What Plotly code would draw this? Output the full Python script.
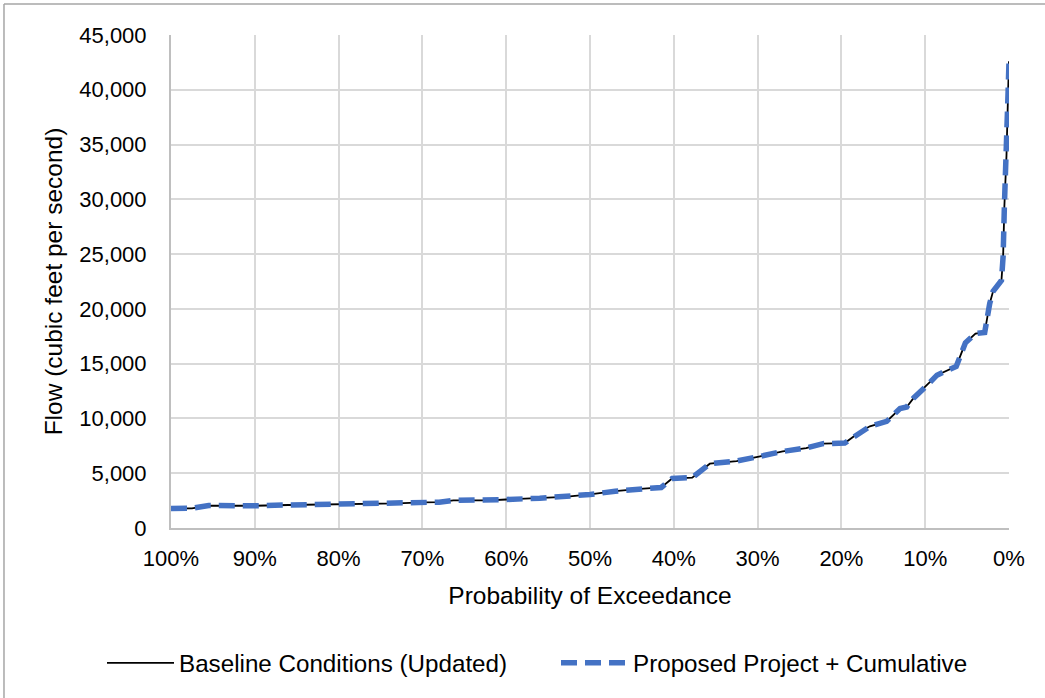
import plotly.graph_objects as go

# Flow-duration data: probability of exceedance (%) vs. flow (cfs)
exceedance_pct = [100, 97.5, 95.5, 93, 90, 86, 80, 76, 73, 70, 68, 66.3, 62, 60, 56, 53,
                  50, 47, 44, 41.5, 40.2, 37.8, 35.7, 32.5, 29.7, 27, 24.2, 22.2, 19.6,
                  17.8, 16.6, 14.6, 13, 12.2, 11.4, 9.8, 8.6, 6.3, 5.2, 4.0, 2.9, 2.3,
                  1.9, 0.9, 0.7, 0.55, 0.3, 0.1, 0]
baseline_flow = [1780, 1800, 2050, 2020, 2030, 2100, 2160, 2170, 2250, 2340, 2360, 2520,
                 2520, 2600, 2720, 2850, 3060, 3360, 3580, 3700, 4520, 4600, 5870, 6110,
                 6540, 6990, 7300, 7700, 7750, 8760, 9280, 9730, 10900, 11050, 11850,
                 13000, 13950, 14750, 16900, 17750, 17850, 20500, 21600, 22600, 24800,
                 29400, 34000, 40000, 42600]
proposed_flow = [1780, 1800, 2050, 2020, 2030, 2100, 2160, 2170, 2250, 2340, 2360, 2520,
                 2520, 2600, 2720, 2850, 3060, 3360, 3580, 3700, 4520, 4600, 5870, 6110,
                 6540, 6990, 7300, 7700, 7750, 8760, 9280, 9730, 10900, 11050, 11850,
                 13000, 13950, 14750, 16900, 17750, 17850, 20500, 21600, 22600, 24800,
                 29400, 34000, 40000, 42600]

series_names = ["Baseline Conditions (Updated)", "Proposed Project + Cumulative"]
x_ticks = list(range(0, 101, 10))
y_ticks = list(range(0, 45001, 5000))

FONT = "Liberation Sans, Arial, sans-serif"
GRID = "#D9D9D9"

fig = go.Figure()
fig.add_trace(go.Scatter(
    x=exceedance_pct, y=baseline_flow, mode="lines", name=series_names[0],
    line=dict(color="#000000", width=1.8),
))
fig.add_trace(go.Scatter(
    x=exceedance_pct, y=proposed_flow, mode="lines", name=series_names[1],
    line=dict(color="#4472C4", width=5.5, dash="16px,8px"),
))

fig.update_layout(
    width=1045, height=698,
    margin=dict(l=171, r=36, t=35, b=170),
    paper_bgcolor="white", plot_bgcolor="white",
    font=dict(family=FONT, color="#000000", size=22),
    showlegend=True,
    legend=dict(
        orientation="h", x=(102 - 171) / 838, xanchor="left", y=-0.274, yanchor="middle",
        font=dict(size=24.2), itemwidth=67, tracegroupgap=0,
        entrywidthmode="pixels", entrywidth=372,
        bgcolor="rgba(0,0,0,0)",
    ),
    xaxis=dict(
        range=[100, 0], tickvals=x_ticks, ticktext=[f"{v}%" for v in x_ticks],
        showgrid=True, gridcolor=GRID, gridwidth=2,
        showline=True, linecolor="#BFBFBF", linewidth=2, mirror=False,
        zeroline=False, ticks="", ticklabelstandoff=10,
        tickfont=dict(size=22),
        title=dict(text="Probability of Exceedance", font=dict(size=24.5), standoff=16),
    ),
    yaxis=dict(
        range=[0, 45000], tickvals=y_ticks, tickformat=",",
        showgrid=True, gridcolor=GRID, gridwidth=2,
        showline=True, linecolor="#BFBFBF", linewidth=2,
        zeroline=False, ticks="", ticklabelstandoff=18,
        tickfont=dict(size=22),
        title=dict(text="Flow (cubic feet per second)", font=dict(size=24.5), standoff=10),
    ),
    shapes=[
        # outer chart frame (top and left edges)
        dict(type="line", xref="paper", yref="paper",
             x0=-0.1993, x1=1.1, y0=1.063, y1=1.063,
             line=dict(color="#A6A6A6", width=1.5)),
        dict(type="line", xref="paper", yref="paper",
             x0=-0.1993, x1=-0.1993, y0=1.063, y1=-0.5,
             line=dict(color="#A6A6A6", width=1.5)),
    ],
)

fig.write_html("out.html")
